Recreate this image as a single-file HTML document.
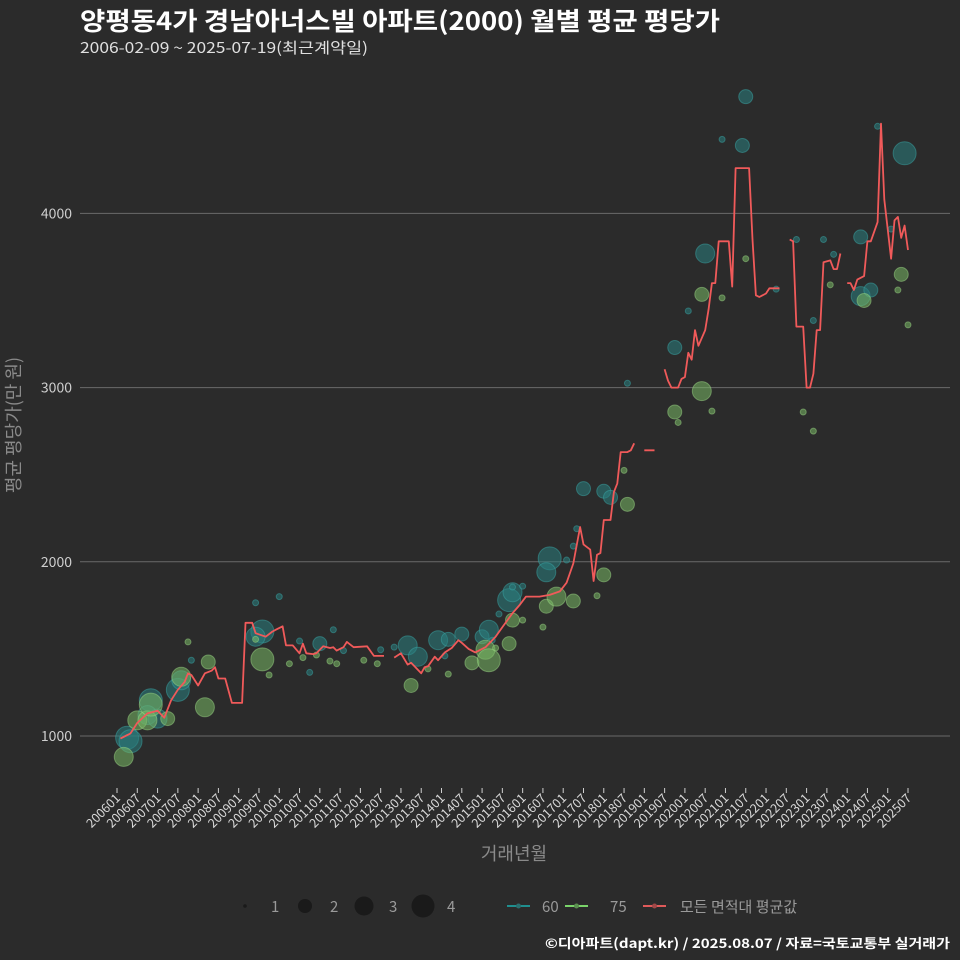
<!DOCTYPE html>
<html><head><meta charset="utf-8">
<style>
html,body{margin:0;padding:0;background:#2b2b2b;}
svg{display:block;font-family:"Noto Sans CJK KR","Liberation Sans",sans-serif;}
</style></head>
<body>
<svg id="chart" width="960" height="960" viewBox="0 0 960 960">
<rect x="0" y="0" width="960" height="960" fill="#2b2b2b"/>
<text x="80" y="30" fill="#ffffff" font-size="25" font-weight="bold" textLength="640" lengthAdjust="spacingAndGlyphs">양평동4가 경남아너스빌 아파트(2000) 월별 평균 평당가</text>
<text x="80" y="53" fill="#e0e0e0" font-size="15" textLength="288" lengthAdjust="spacingAndGlyphs">2006-02-09 ~ 2025-07-19(최근계약일)</text>
<g id="grid"></g>
<g id="ylabels"></g>
<g id="xaxis"></g>
<g id="points"></g>
<g id="line"></g>
<text x="0" y="0" transform="translate(20,425) rotate(-90)" text-anchor="middle" fill="#8a8a8a" font-size="18">평균 평당가(만 원)</text>
<text x="514" y="860" text-anchor="middle" fill="#8a8a8a" font-size="18">거래년월</text>
<g>
<circle cx="245" cy="906" r="1.8" fill="#1a1a1a"/>
<text x="271" y="912" fill="#9a9a9a" font-size="15">1</text>
<circle cx="305" cy="906" r="7" fill="#1a1a1a"/>
<text x="330" y="912" fill="#9a9a9a" font-size="15">2</text>
<circle cx="364" cy="906" r="9.5" fill="#1a1a1a"/>
<text x="389" y="912" fill="#9a9a9a" font-size="15">3</text>
<circle cx="423" cy="906" r="11.5" fill="#1a1a1a"/>
<text x="447" y="912" fill="#9a9a9a" font-size="15">4</text>
<line x1="507" y1="906" x2="530" y2="906" stroke="#1f8f8f" stroke-width="2"/>
<circle cx="518.5" cy="906" r="2.5" fill="#2a6f6f"/>
<text x="542" y="912" fill="#9a9a9a" font-size="15">60</text>
<line x1="565" y1="906" x2="588" y2="906" stroke="#7ad46a" stroke-width="2"/>
<circle cx="576.5" cy="906" r="2.5" fill="#5a8f4f"/>
<text x="610" y="912" fill="#9a9a9a" font-size="15">75</text>
<line x1="643" y1="906" x2="666" y2="906" stroke="#e05a5a" stroke-width="2"/>
<circle cx="654.5" cy="906" r="2.5" fill="#a04848"/>
<text x="680" y="912" fill="#9a9a9a" font-size="15">모든 면적대 평균값</text>
</g>
<text x="545" y="948" fill="#ffffff" font-size="13" font-weight="bold" textLength="405" lengthAdjust="spacingAndGlyphs">©디아파트(dapt.kr) / 2025.08.07 / 자료=국토교통부 실거래가</text>
</svg>
<script>
const yTicks=[1000,2000,3000,4000];
const xTickLabels=["200601","200607","200701","200707","200801","200807","200901","200907","201001","201007","201101","201107","201201","201207","201301","201307","201401","201407","201501","201507","201601","201607","201701","201707","201801","201807","201901","201907","202001","202007","202101","202107","202201","202207","202301","202307","202401","202407","202501","202507"];
// average line (null = gap)
const avgMonths=["200602","200605","200607","200610","200701","200703","200705","200707","200709","200710","200711","200801","200803","200805","200806","200807","200809","200811","200902","200903","200905","200906","200909","200911","200912","201002","201003","201005","201007","201008","201009","201011","201012","201102","201104","201105","201106","201108","201109","201111","201203","201205","201208",null,"201211","201301","201303","201304","201307","201308","201309","201311","201312","201402","201404","201406","201407","201409","201411","201502","201505","201507","201510","201512","201602","201603","201606","201609","201612","201702","201704","201706","201707","201709","201710","201711","201712","201801","201803","201804","201805","201806","201807","201808","201809","201810",null,"201901","201902","201903","201904",null,"201907","201908","201909","201911","201912","202001","202002","202003","202004","202005","202007","202008","202009","202010","202011","202102","202103","202104","202108","202109","202110","202111","202201","202202","202205",null,"202208","202209","202210","202212","202301","202302","202303","202304","202305","202306","202308","202309","202310","202311",null,"202401","202402","202403","202404","202406","202407","202408","202410","202411","202412","202502","202503","202504","202505","202506","202507"];
const avgValues=[985,1015,1075,1130,1145,1105,1205,1265,1310,1360,1350,1290,1360,1375,1395,1330,1330,1190,1190,1650,1650,1590,1570,1600,1610,1630,1520,1520,1475,1530,1475,1470,1475,1515,1505,1510,1490,1510,1540,1510,1515,1460,1460,null,1450,1475,1410,1420,1360,1395,1400,1455,1435,1480,1505,1550,1535,1500,1480,1510,1570,1625,1705,1750,1800,1800,1800,1810,1830,1880,1990,2200,2100,2070,1890,2040,2050,2240,2240,2400,2450,2630,2630,2630,2640,2680,null,2640,2640,2640,2640,null,3105,3040,3000,3000,3050,3060,3200,3160,3330,3240,3330,3450,3600,3600,3840,3840,3580,4260,4260,3850,3530,3520,3540,3570,3570,null,3850,3840,3350,3350,3000,3000,3080,3330,3330,3720,3730,3680,3680,3770,null,3600,3600,3560,3620,3640,3840,3840,3950,4515,4080,3740,3960,3980,3860,3930,3790];
// 60 type points
const t60Months=["200604","200605","200611","200610","200701","200707","200708","200908","200906","201101","201303","201306","201312","201403","201407","201501","201503","201509","201510","201609","201608","201707","201801","201803","201910","202007","202107","202106","202405","202405","202506","202408","200711","200906","201001","201007","201010","201105","201108","201207","201211","201402","201504","201506","201510","201601","201702","201704","201705","201808","202002","202012","202204","202210","202306","202303","202309","202410","202502"];
const t60Values=[990,970,1205,1120,1100,1265,1320,1600,1570,1530,1520,1455,1550,1555,1585,1570,1610,1780,1825,2020,1940,2420,2405,2370,3230,3770,4670,4390,3865,3525,4345,3560,1435,1765,1800,1545,1365,1610,1490,1495,1510,1460,1550,1700,1855,1860,2010,2090,2190,3025,3440,4425,3565,3850,3850,3385,3765,4500,3910];
const t60Counts=[4,4,4,3,3,4,3,4,3,2,3,3,3,2,2,2,3,4,3,4,3,2,2,2,2,3,2,2,2,3,4,2,1,1,1,1,1,1,1,1,1,1,1,1,1,1,1,1,1,1,1,1,1,1,1,1,1,1,1];
// 75 type points
const t75Months=["200603","200607","200610","200611","200704","200708","200803","200804","200908","201304","201410","201502","201503","201510","201509","201608","201611","201704","201801","201808","201910","202006","202006","202505","202406","200710","200906","200910","201004","201008","201012","201104","201106","201202","201206","201309","201403","201505","201601","201607","201711","201807","201911","202009","202012","202107","202212","202303","202308","202504","202507"];
const t75Values=[880,1090,1090,1180,1100,1340,1165,1425,1440,1290,1420,1495,1435,1665,1530,1745,1800,1775,1925,2330,2860,2980,3535,3650,3500,1540,1555,1350,1415,1450,1465,1430,1415,1435,1415,1385,1355,1505,1665,1625,1805,2525,2800,2865,3515,3740,2860,2750,3590,3560,3360];
const t75Counts=[3,3,3,4,2,3,3,2,4,2,2,3,4,2,2,2,3,2,2,2,2,3,2,2,2,1,1,1,1,1,1,1,1,1,1,1,1,1,1,1,1,1,1,1,1,1,1,1,1,1,1];

const NS="http://www.w3.org/2000/svg";
function monthIdx(s){return (parseInt(s.slice(0,4))-2006)*12+parseInt(s.slice(4,6))-1;}
function xScale(s){return 117+monthIdx(s)*(791/234);}
function yScale(v){return 736-(v-1000)*0.1742;}
function rScale(c){return [0,3,7,9.5,11.5][c];}
function mk(tag,attrs,parent){const e=document.createElementNS(NS,tag);for(const k in attrs)e.setAttribute(k,attrs[k]);parent.appendChild(e);return e;}

const grid=document.getElementById('grid'),yl=document.getElementById('ylabels');
yTicks.forEach(v=>{
  const l=mk('line',{x1:80,x2:950,y1:yScale(v),y2:yScale(v),stroke:'#6a6a6a','stroke-width':1},grid);
  
  
  const t=mk('text',{x:72,y:yScale(v)+5,'text-anchor':'end',fill:'#cfcfcf','font-size':14},yl);
  t.textContent=v;
  
  
});
const xa=document.getElementById('xaxis');
xTickLabels.forEach(s=>{
  const x=xScale(s);
  const tk=mk('line',{x1:x,x2:x,y1:788,y2:793,stroke:'#cfcfcf','stroke-width':1},xa);
  
  
  const t=mk('text',{x:0,y:0,transform:'translate('+(x+4)+',799) rotate(-45)','text-anchor':'end',fill:'#d8d8d8','font-size':12.5},xa);
  t.textContent=s;
  
  
});
const pts=document.getElementById('points');
function drawPts(months,values,counts,fill,stroke,name){
  months.forEach((m,i)=>{
    const c=mk('circle',{cx:xScale(m),cy:yScale(values[i]),r:rScale(counts[i]),fill:fill,'fill-opacity':0.55,stroke:stroke,'stroke-opacity':0.5,'stroke-width':1},pts);
    
    
  });
}
drawPts(t60Months,t60Values,t60Counts,'#2a7f80','#3aa5a5','area-60');
drawPts(t75Months,t75Values,t75Counts,'#78b865','#9ad483','area-75');
const lg=document.getElementById('line');
let d='',pen=false;
avgMonths.forEach((m,i)=>{
  if(m===null||avgValues[i]===null){pen=false;return;}
  d+=(pen?'L':'M')+xScale(m).toFixed(1)+','+yScale(avgValues[i]).toFixed(1);
  pen=true;
});
const p=mk('path',{d:d,fill:'none',stroke:'#f05a5a','stroke-width':1.8,'stroke-linejoin':'round'},lg);


</script>
</body></html>
